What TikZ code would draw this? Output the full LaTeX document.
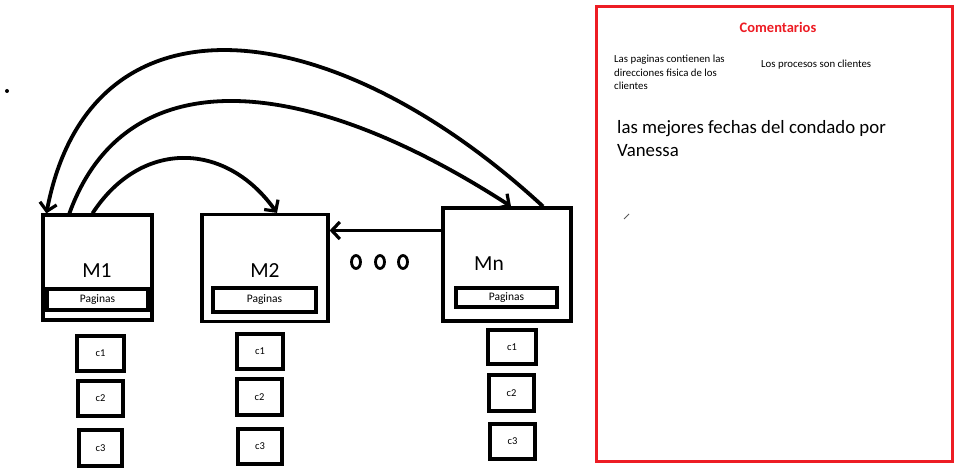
\documentclass[tikz,border=0pt]{standalone}
\usepackage{fontspec}
\setmainfont{Carlito}
\usetikzlibrary{arrows.meta,shapes.geometric}
\definecolor{panelred}{RGB}{237,28,36}
\tikzset{
  mbox/.style={draw, line width=3.2pt, inner sep=0pt, minimum width=#1},
  cbox/.style={draw, line width=3.2pt, inner sep=0pt, minimum width=46pt, minimum height=35pt, font=\fontsize{10.5}{12}\selectfont},
  pbox/.style={draw, line width=3.2pt, inner sep=0pt, minimum width=101pt, minimum height=22pt, font=\fontsize{11.5}{13}\selectfont},
  mlabel/.style={inner sep=0pt, font=\fontsize{21.5}{25}\selectfont},
  arr/.style={line width=3.8pt, -{Straight Barb[length=8pt,width=17pt,line width=3.2pt]}},
  dotring/.style={draw, ellipse, line width=2.8pt, inner sep=0pt, minimum width=9pt, minimum height=13pt},
  note/.style={inner sep=0pt, align=left, font=\fontsize{10.8}{13.5}\selectfont}
}
\begin{document}
\begin{tikzpicture}[x=1pt,y=-1pt]
\useasboundingbox (0,0) rectangle (960,470);
\fill[white] (0,0) rectangle (960,470);

% stray dot
\fill (7,91) circle (2pt);

% machine boxes
\node[mbox=109pt, minimum height=105pt] (m1) at (97.5,267.5) {};
\node[mbox=126pt, minimum height=107pt] (m2) at (265,268) {};
\node[mbox=128pt, minimum height=113pt] (mn) at (507,264.5) {};

\node[mlabel] (l1) at (97,271) {M1};
\node[mlabel] (l2) at (265,271) {M2};
\node[mlabel] (ln) at (489,264) {Mn};

\node[pbox, minimum height=21pt] (p1) at (97.5,299.5) {Paginas};
\node[pbox, minimum width=103pt, minimum height=24pt] (p2) at (264.5,300) {Paginas};
\node[pbox, minimum height=19pt] (pn) at (506.5,297.5) {Paginas};

% client boxes
\node[cbox, minimum width=47pt] (a1) at (100.5,353.5) {c1};
\node[cbox, minimum width=45pt] (a2) at (100.5,398.5) {c2};
\node[cbox, minimum width=43pt, minimum height=36pt] (a3) at (100.5,448) {c3};

\node[cbox] (b1) at (260,351.5) {c1};
\node[cbox, minimum width=45pt, minimum height=36pt] (b2) at (259.5,397) {c2};
\node[cbox, minimum width=44pt] (b3) at (260,446.5) {c3};

\node[cbox, minimum width=48pt, minimum height=34pt] (n1) at (512,347) {c1};
\node[cbox, minimum width=45pt, minimum height=36pt] (n2) at (511.5,393) {c2};
\node[cbox, minimum width=45pt] (n3) at (512.5,441.5) {c3};

% ellipsis
\node[dotring] (e1) at (356,262) {};
\node[dotring] (e2) at (380,262) {};
\node[dotring] (e3) at (403,262) {};

% connectors
\draw[arr] ([xshift=36pt]mn.north) .. controls (330,10) and (90,-15) .. ([xshift=5pt]m1.north west);
\draw[arr] ([xshift=28pt]m1.north west) .. controls (125,60) and (300,70) .. ([xshift=4pt]mn.north);
\draw[arr] ([xshift=-5pt]m1.north) .. controls (140,140) and (225,140) .. ([xshift=12pt]m2.north);
\coordinate (s) at ([yshift=34pt]mn.west);
\draw[arr] (s) -- (s -| m2.east);

% comments panel
\node[draw=panelred, line width=3pt, inner sep=0pt, minimum width=356pt, minimum height=454pt] (panel) at (774,234) {};
\node[inner sep=0pt, text=panelred, font=\fontsize{14.5}{16}\selectfont\bfseries] (title) at (778,27) {Comentarios};
\node[note, anchor=north west] (t1) at (614,55) {Las paginas contienen las\\direcciones fisica de los\\clientes};
\node[note, anchor=west] (t2) at (761,65) {Los procesos son clientes};
\node[inner sep=0pt, align=left, anchor=north west, font=\fontsize{18.8}{23}\selectfont] (t3) at (617,120) {las mejores fechas del condado por\\Vanessa};
\draw[gray!70!black, line width=0.8pt] (624,219) -- (629,214);
\end{tikzpicture}
\end{document}
